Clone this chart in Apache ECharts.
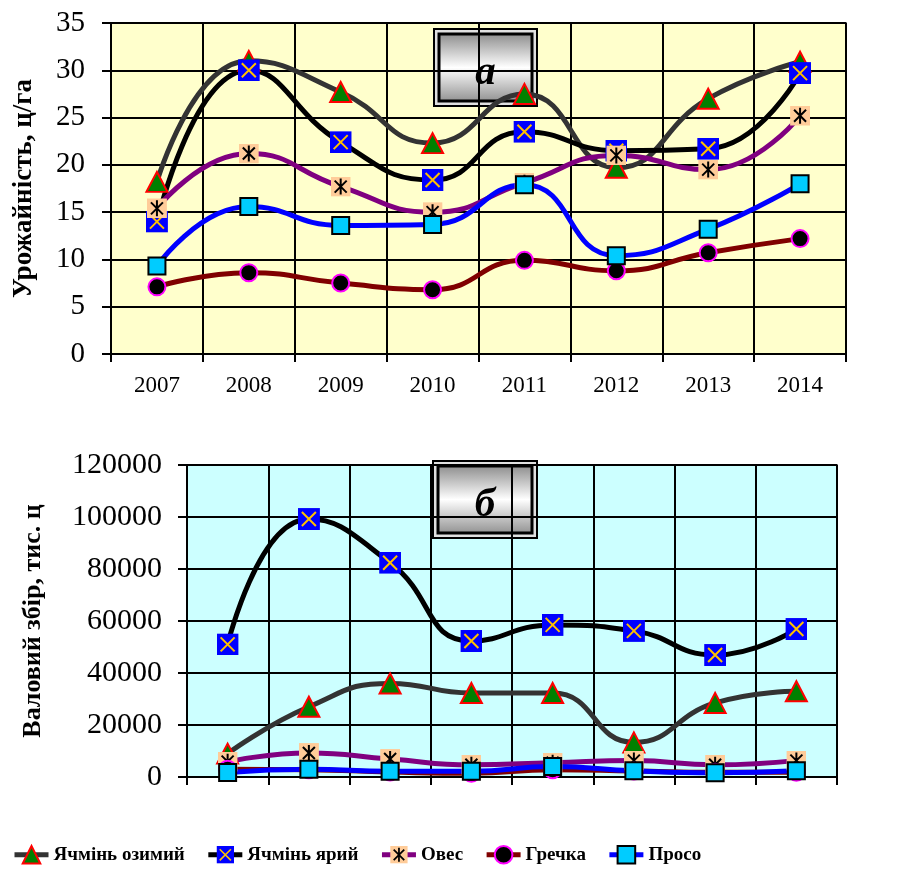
<!DOCTYPE html>
<html>
<head>
<meta charset="utf-8">
<script src="https://cdn.jsdelivr.net/npm/echarts@6/dist/echarts.min.js"></script>
<style>
html,body{margin:0;padding:0;background:#fff;}
#c{width:902px;height:872px;}
</style>
</head>
<body>
<div id="c"></div>
<script>
// ---- data ----
const years = ['2007','2008','2009','2010','2011','2012','2013','2014'];
const seriesNames = ['Ячмінь озимий','Ячмінь ярий','Овес','Гречка','Просо'];

// (a) yield, c/ha
const yieldWinterBarley = [18.2, 31.0, 27.7, 22.3, 27.5, 19.7, 27.0, 30.9];
const yieldSpringBarley = [14.0, 30.0, 22.4, 18.4, 23.5, 21.5, 21.7, 29.7];
const yieldOats         = [15.4, 21.2, 17.7, 15.0, 18.1, 21.0, 19.5, 25.2];
const yieldBuckwheat    = [7.1, 8.6, 7.5, 6.8, 9.9, 8.8, 10.7, 12.2];
const yieldMillet       = [9.3, 15.6, 13.6, 13.7, 17.9, 10.4, 13.2, 18.0];

// (б) gross harvest, thousand c
const prodWinterBarley = [9000, 27000, 36000, 32300, 32300, 13300, 28500, 33000];
const prodSpringBarley = [51000, 99200, 82400, 52300, 58500, 56200, 46900, 56900];
const prodOats         = [5900, 9200, 6900, 4700, 5500, 6300, 4700, 6300];
const prodBuckwheat    = [3000, 2800, 1900, 1400, 2800, 2300, 1800, 1800];
const prodMillet       = [1700, 3000, 2200, 2200, 4000, 2400, 1600, 2400];

const yTicksA = {min: 0, max: 35, interval: 5};
const yTicksB = {min: 0, max: 120000, interval: 20000};

// ---- styles ----
function svgUri(svg){ return 'image://data:image/svg+xml;charset=utf-8,' + encodeURIComponent(svg); }
const xBox = svgUri("<svg xmlns='http://www.w3.org/2000/svg' width='22' height='22' viewBox='0 0 22 22'><rect width='22' height='22' fill='#0000FF'/><path d='M4 4L18 18M18 4L4 18' stroke='#FFC000' stroke-width='2'/></svg>");
const starBox = svgUri("<svg xmlns='http://www.w3.org/2000/svg' width='20' height='20' viewBox='0 0 20 20'><rect width='20' height='20' fill='#FFCC99'/><path d='M4 4L16 16M16 4L4 16M10 2L10 18' stroke='#000' stroke-width='2'/></svg>");

const styles = [
  {line:'#333333', symbol:'triangle', size:[21,20], item:{color:'#008000', borderColor:'#FF0000', borderWidth:2}},
  {line:'#000000', symbol:xBox, size:22, item:{color:'#0000FF'}},
  {line:'#800080', symbol:starBox, size:20, item:{color:'#FFCC99'}},
  {line:'#800000', symbol:'circle', size:17, item:{color:'#000000', borderColor:'#FF00FF', borderWidth:2}},
  {line:'#0000FF', symbol:'rect', size:17, item:{color:'#00CCFF', borderColor:'#000000', borderWidth:2}}
];

const dataA = [yieldWinterBarley, yieldSpringBarley, yieldOats, yieldBuckwheat, yieldMillet];
const dataB = [prodWinterBarley, prodSpringBarley, prodOats, prodBuckwheat, prodMillet];

const serif = 'Liberation Serif, Times New Roman, serif';

function mkSeries(data, idx){
  return data.map((d,i)=>({
    name: seriesNames[i], type:'line', xAxisIndex: idx, yAxisIndex: idx,
    data: d, smooth: true, symbol: styles[i].symbol, symbolSize: styles[i].size,
    showAllSymbol: true,
    lineStyle: {color: styles[i].line, width: 5},
    itemStyle: Object.assign({opacity:1}, styles[i].item),
    emphasis: {disabled: true}, animation: false
  }));
}

function titleBox(x, y, w, h, letter){
  return {
    type:'group', left:x, top:y, z:100,
    children:[
      {type:'rect', shape:{x:0,y:0,width:w,height:h}, style:{fill:'#e0e0e0', stroke:'#000', lineWidth:2}},
      {type:'rect', shape:{x:5,y:5,width:w-10,height:h-10}, style:{
        fill:{type:'linear', x:0, y:0, x2:0, y2:1, colorStops:[
          {offset:0, color:'#8a8a8a'},{offset:0.5, color:'#ffffff'},{offset:1, color:'#8f8f8f'}]},
        stroke:'#000', lineWidth:3}},
      {type:'text', x:w/2, y:h/2+6, style:{text:letter, fill:'#000', font:'italic bold 41px ' + serif, textAlign:'center', textVerticalAlign:'middle'}}
    ]
  };
}

const axisLbl = {color:'#000', fontFamily: serif, formatter: v => String(v)};

const option = {
  backgroundColor:'#ffffff',
  animation:false,
  grid:[
    {left:111, top:23, width:735, height:331, show:true, backgroundColor:'#FFFFCC', borderColor:'#808080', borderWidth:2},
    {left:187, top:465, width:650, height:312, show:true, backgroundColor:'#CCFFFF', borderColor:'#808080', borderWidth:2}
  ],
  legend:{
    left:12, top:845, padding:0, width:1600, itemGap:21, itemWidth:34, itemHeight:22,
    data: seriesNames,
    lineStyle:{width:5},
    textStyle:{fontFamily: serif, fontWeight:'bold', fontSize:19, color:'#000'}
  },
  xAxis:[
    {type:'category', gridIndex:0, data:years, boundaryGap:true,
     axisLine:{lineStyle:{color:'#000', width:2}},
     axisTick:{show:true, length:8, lineStyle:{color:'#000', width:2}},
     axisLabel:{color:'#000', fontFamily: serif, fontSize:23, margin:20},
     splitLine:{show:true, lineStyle:{color:'#000', width:2}}},
    {type:'category', gridIndex:1, data:years, boundaryGap:true,
     axisLine:{lineStyle:{color:'#000', width:2}},
     axisTick:{show:true, length:8, lineStyle:{color:'#000', width:2}},
     axisLabel:{show:false},
     splitLine:{show:true, lineStyle:{color:'#000', width:2}}}
  ],
  yAxis:[
    {type:'value', gridIndex:0, min:yTicksA.min, max:yTicksA.max, interval:yTicksA.interval,
     name:'Урожайність, ц/га', nameLocation:'middle', nameGap:73, nameRotate:90,
     nameTextStyle:{fontFamily: serif, fontWeight:'bold', fontSize:27, color:'#000'},
     axisLine:{show:true, lineStyle:{color:'#000', width:2}},
     axisTick:{show:true, length:9, lineStyle:{color:'#000', width:2}},
     axisLabel:Object.assign({fontSize:29, margin:26}, axisLbl),
     splitLine:{show:true, lineStyle:{color:'#000', width:2}}},
    {type:'value', gridIndex:1, min:yTicksB.min, max:yTicksB.max, interval:yTicksB.interval,
     name:'Валовий збір, тис. ц', nameLocation:'middle', nameGap:141, nameRotate:90,
     nameTextStyle:{fontFamily: serif, fontWeight:'bold', fontSize:26, color:'#000'},
     axisLine:{show:true, lineStyle:{color:'#000', width:2}},
     axisTick:{show:true, length:9, lineStyle:{color:'#000', width:2}},
     axisLabel:Object.assign({fontSize:30, margin:25}, axisLbl),
     splitLine:{show:true, lineStyle:{color:'#000', width:2}}}
  ],
  graphic:[
    titleBox(433, 28, 103, 77, 'а'),
    titleBox(432, 460, 104, 77, 'б')
  ],
  series: mkSeries(dataA, 0).concat(mkSeries(dataB, 1))
};

const chart = echarts.init(document.getElementById('c'), null, {renderer:'canvas'});
chart.setOption(option);
</script>
</body>
</html>
